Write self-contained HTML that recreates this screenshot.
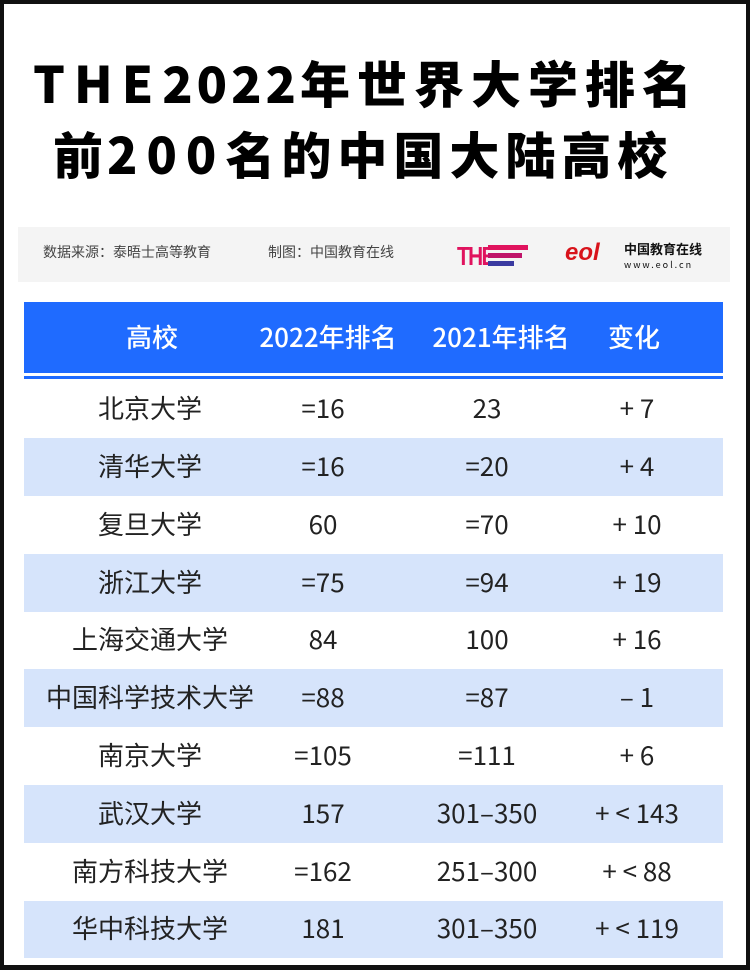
<!DOCTYPE html>
<html><head><meta charset="utf-8"><style>
*{margin:0;padding:0;box-sizing:border-box}
body{width:750px;height:972px;background:#fff;position:relative;overflow:hidden;font-family:"Liberation Sans","Noto Sans CJK SC",sans-serif}
.frame{position:absolute;left:0;top:0;width:750px;height:970px;border:4px solid #111;border-bottom-width:5px}
.t{position:absolute;font-family:"Noto Sans CJK SC",sans-serif;font-weight:900;font-size:50px;color:#000;line-height:1;white-space:nowrap}
.src{position:absolute;left:18px;top:227px;width:712px;height:55px;background:#f4f4f4}
.src span{position:absolute;top:18px;font-family:"Noto Sans CJK SC",sans-serif;font-size:14px;color:#444;line-height:1}
.hdr{position:absolute;left:24px;top:302px;width:699px;height:71px;background:#1f6bff}
.hl{position:absolute;left:24px;top:376px;width:699px;height:3px;background:#1f6bff}
.cell{position:absolute;transform:translateX(-50%);white-space:nowrap;font-family:"Noto Sans CJK SC",sans-serif;line-height:1}
.h{color:#fff;font-size:26px;font-weight:500;top:324px}
.row{position:absolute;left:24px;width:699px;height:58px}
.r{font-size:26px;color:#222}
</style></head><body>
<div class="frame"></div>
<div class="t" style="left:33px;top:57px"><span style="letter-spacing:9px">THE</span><span style="letter-spacing:4px">2022</span><span style="letter-spacing:7px">年世界大学排名</span></div>
<div class="t" style="left:53px;top:128px"><span style="letter-spacing:4px">前</span><span style="letter-spacing:9px">200</span><span style="letter-spacing:6px">名的中国大陆高校</span></div>

<div class="src">
<span style="left:25px">数据来源：泰晤士高等教育</span>
<span style="left:250px">制图：中国教育在线</span>
<div style="position:absolute;left:439px;top:16px;font:900 26px 'Liberation Sans',sans-serif;color:#e0135e;letter-spacing:-2px;line-height:1;transform:scaleX(0.8);transform-origin:left">THE</div>
<div style="position:absolute;left:470px;top:18px;width:40px;height:5px;background:#e0135e"></div>
<div style="position:absolute;left:470px;top:26px;width:34px;height:5px;background:#c0146a"></div>
<div style="position:absolute;left:470px;top:34px;width:26px;height:5px;background:#3a3aa0"></div>
<div style="position:absolute;left:547px;top:14px;font:italic 900 24px 'Liberation Sans',sans-serif;color:#d8131b;line-height:1">eol</div>
<span style="left:606px;top:15px;font-weight:700;font-size:13px;color:#111">中国教育在线</span>
<span style="left:606px;top:33px;font-size:9px;color:#111;letter-spacing:2px">www.eol.cn</span>
</div>
<div class="hdr"></div><div class="hl"></div>
<div class="cell h" style="left:152px">高校</div>
<div class="cell h" style="left:328px">2022年排名</div>
<div class="cell h" style="left:501px">2021年排名</div>
<div class="cell h" style="left:634px">变化</div>

<div class="row" style="top:438px;background:#d6e4fb"></div>
<div class="row" style="top:554px;background:#d6e4fb"></div>
<div class="row" style="top:669px;background:#d6e4fb"></div>
<div class="row" style="top:785px;background:#d6e4fb"></div>
<div class="row" style="top:901px;background:#d6e4fb;height:57px"></div>

<div class="cell r" style="left:150px;top:395px">北京大学</div><div class="cell r" style="left:323px;top:395px">=16</div><div class="cell r" style="left:487px;top:395px">23</div><div class="cell r" style="left:637px;top:395px">+ 7</div>
<div class="cell r" style="left:150px;top:453px">清华大学</div><div class="cell r" style="left:323px;top:453px">=16</div><div class="cell r" style="left:487px;top:453px">=20</div><div class="cell r" style="left:637px;top:453px">+ 4</div>
<div class="cell r" style="left:150px;top:511px">复旦大学</div><div class="cell r" style="left:323px;top:511px">60</div><div class="cell r" style="left:487px;top:511px">=70</div><div class="cell r" style="left:637px;top:511px">+ 10</div>
<div class="cell r" style="left:150px;top:569px">浙江大学</div><div class="cell r" style="left:323px;top:569px">=75</div><div class="cell r" style="left:487px;top:569px">=94</div><div class="cell r" style="left:637px;top:569px">+ 19</div>
<div class="cell r" style="left:150px;top:626px">上海交通大学</div><div class="cell r" style="left:323px;top:626px">84</div><div class="cell r" style="left:487px;top:626px">100</div><div class="cell r" style="left:637px;top:626px">+ 16</div>
<div class="cell r" style="left:150px;top:684px">中国科学技术大学</div><div class="cell r" style="left:323px;top:684px">=88</div><div class="cell r" style="left:487px;top:684px">=87</div><div class="cell r" style="left:637px;top:684px">– 1</div>
<div class="cell r" style="left:150px;top:742px">南京大学</div><div class="cell r" style="left:323px;top:742px">=105</div><div class="cell r" style="left:487px;top:742px">=111</div><div class="cell r" style="left:637px;top:742px">+ 6</div>
<div class="cell r" style="left:150px;top:800px">武汉大学</div><div class="cell r" style="left:323px;top:800px">157</div><div class="cell r" style="left:487px;top:800px">301–350</div><div class="cell r" style="left:637px;top:800px">+ &lt; 143</div>
<div class="cell r" style="left:150px;top:858px">南方科技大学</div><div class="cell r" style="left:323px;top:858px">=162</div><div class="cell r" style="left:487px;top:858px">251–300</div><div class="cell r" style="left:637px;top:858px">+ &lt; 88</div>
<div class="cell r" style="left:150px;top:915px">华中科技大学</div><div class="cell r" style="left:323px;top:915px">181</div><div class="cell r" style="left:487px;top:915px">301–350</div><div class="cell r" style="left:637px;top:915px">+ &lt; 119</div>
</body></html>
